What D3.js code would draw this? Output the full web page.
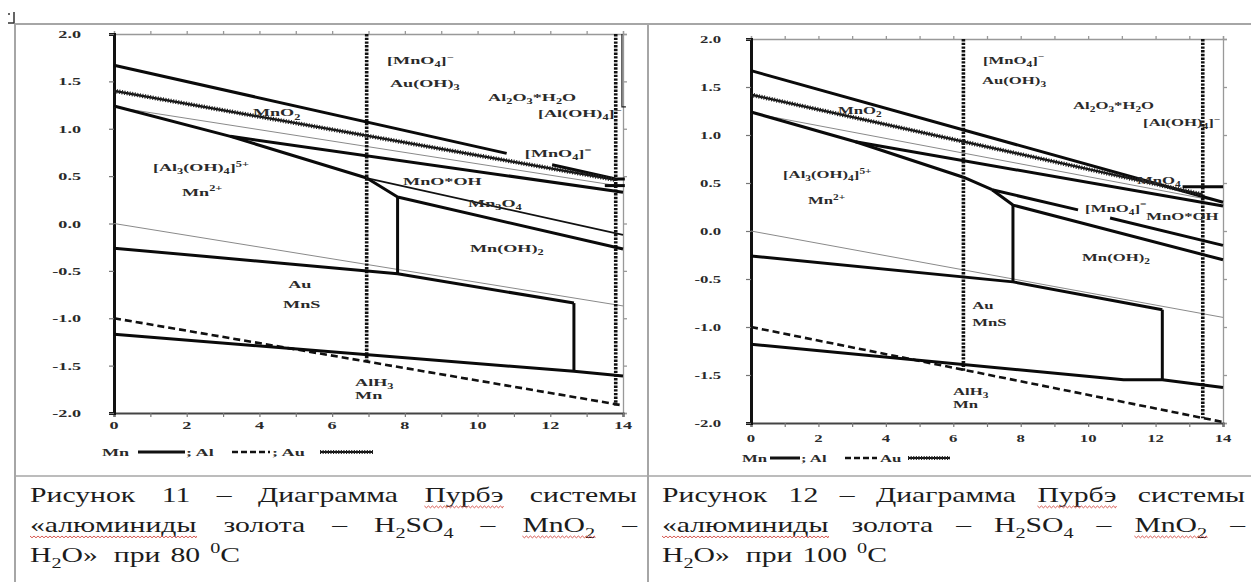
<!DOCTYPE html>
<html>
<head>
<meta charset="utf-8">
<script src="https://cdn.jsdelivr.net/npm/d3@7"></script>
<style>
  body { margin: 0; background: #fff; }
  svg { display: block; }
</style>
</head>
<body>
<svg id="page" width="1251" height="582"></svg>
<script>
// ---------- axis ticks ----------
const pHTicks = [0, 2, 4, 6, 8, 10, 12, 14];
const eTicks = [2.0, 1.5, 1.0, 0.5, 0.0, -0.5, -1.0, -1.5, -2.0];

// ---------- Pourbaix diagram, 80 °C (points are [pH, E, V]) ----------
const mn80 = [
  [[0, 1.67], [10.8, 0.74]],
  [[12.05, 0.62], [13.8, 0.47], [14.05, 0.47]],
  [[0, 1.24], [3.2, 0.92], [6.95, 0.48]],
  [[3.2, 0.92], [14, 0.33]],
  [[13.5, 0.40], [14.05, 0.40]],
  [[6.95, 0.48], [7.8, 0.28], [14, -0.27]],
  [[7.8, 0.28], [7.8, -0.53]],
  [[0, -0.26], [7.8, -0.53], [12.65, -0.84]],
  [[12.65, -0.84], [12.65, -1.56]],
  [[0, -1.17], [12.65, -1.56], [14, -1.61]]
];
const mnThin80 = [[[6.95, 0.48], [14, -0.12]]];
const al80 = [[[0, -1.0], [14, -1.92]]];
const alBounds80 = [[[6.95, 2.0], [6.95, -1.45]], [[13.8, 2.0], [13.8, -1.92]]];
const au80 = [[[0, 1.40], [13.8, 0.46]]];
const water80 = [[[0, 1.23], [14, 0.39]], [[0, 0.0], [14, -0.87]]];
const marks80 = [[[13.97, 2.0], [13.97, 1.23], [14.08, 1.23]]];
const labels80 = [
  ["[MnO_{4}]^{−}", 7.51, 1.68],
  ["Au(OH)_{3}", 7.59, 1.44],
  ["Al_{2}O_{3}*H_{2}O", 10.29, 1.29],
  ["[Al(OH)_{4}]^{−}", 11.66, 1.12],
  ["[MnO_{4}]^{=}", 11.30, 0.70],
  ["MnO_{2}", 3.82, 1.13],
  ["[Al_{3}(OH)_{4}]^{5+}", 1.07, 0.55],
  ["Mn^{2+}", 1.87, 0.29],
  ["MnO*OH", 7.95, 0.41],
  ["Mn_{3}O_{4}", 9.74, 0.17],
  ["Mn(OH)_{2}", 9.79, -0.30],
  ["Au", 4.79, -0.68],
  ["MnS", 4.65, -0.89],
  ["AlH_{3}", 6.63, -1.71],
  ["Mn", 6.63, -1.85]
];

// ---------- Pourbaix diagram, 100 °C ----------
const mn100 = [
  [[0, 1.67], [14, 0.30]],
  [[0, 1.24], [3.1, 0.93], [6.3, 0.56], [7.15, 0.43]],
  [[3.1, 0.93], [14, 0.26]],
  [[7.15, 0.43], [7.77, 0.27], [14, -0.30]],
  [[7.15, 0.43], [9.7, 0.22]],
  [[10.65, 0.135], [14, -0.15]],
  [[12.8, 0.46], [14, 0.46]],
  [[7.77, 0.27], [7.77, -0.53]],
  [[0, -0.26], [7.77, -0.53], [12.2, -0.82]],
  [[12.2, -0.82], [12.2, -1.55]],
  [[0, -1.18], [11.05, -1.55], [12.2, -1.55], [14, -1.63]]
];
const mnThin100 = [];
const al100 = [[[0, -1.0], [14, -1.99]]];
const alBounds100 = [[[6.3, 2.0], [6.3, -1.47]], [[13.4, 2.0], [13.4, -1.95]]];
const au100 = [[[0, 1.42], [13.4, 0.38]]];
const water100 = [[[0, 1.23], [14, 0.30]], [[0, 0.0], [14, -0.90]]];
const marks100 = [];
const labels100 = [
  ["[MnO_{4}]^{−}", 6.88, 1.74],
  ["Au(OH)_{3}", 6.85, 1.53],
  ["Al_{2}O_{3}*H_{2}O", 9.55, 1.27],
  ["[Al(OH)_{4}]^{−}", 11.63, 1.09],
  ["MnO_{4}", 11.45, 0.49],
  ["[MnO_{4}]^{=}", 9.91, 0.20],
  ["MnO*OH", 11.72, 0.11],
  ["MnO_{2}", 2.58, 1.22],
  ["[Al_{3}(OH)_{4}]^{5+}", 0.95, 0.55],
  ["Mn^{2+}", 1.69, 0.28],
  ["Mn(OH)_{2}", 9.82, -0.31],
  ["Au", 6.56, -0.81],
  ["MnS", 6.56, -0.99],
  ["AlH_{3}", 5.99, -1.71],
  ["Mn", 5.99, -1.84]
];

// ---------- figure captions ----------
const caption11 = [
  ["Рисунок", "11", "–", "Диаграмма", "Пурбэ", "системы"],
  ["«алюминиды", "золота", "–", "H_{2}SO_{4}", "–", "MnO_{2}", "–"],
  ["H_{2}O»", "при", "80", "^{0}C"]
];
const caption12 = [
  ["Рисунок", "12", "–", "Диаграмма", "Пурбэ", "системы"],
  ["«алюминиды", "золота", "–", "H_{2}SO_{4}", "–", "MnO_{2}", "–"],
  ["H_{2}O»", "при", "100", "^{0}C"]
];
const spellFlagged = ["Пурбэ", "«алюминиды", "MnO_{2}"];

// ---------- helpers ----------
const svg = d3.select("#page");
svg.append("rect").attr("width", 1251).attr("height", 582).attr("fill", "#fff");

// writes "X_{sub}" / "Y^{sup}" markup as tspans
function rich(textSel, str, size) {
  const parts = str.split(/(_\{[^}]*\}|\^\{[^}]*\})/).filter(s => s.length);
  let shift = 0;
  parts.forEach(p => {
    let txt = p, dy = 0, fs = size;
    if (p.startsWith("_{")) { txt = p.slice(2, -1); dy = size * 0.28; fs = size * 0.68; }
    else if (p.startsWith("^{")) { txt = p.slice(2, -1); dy = -size * 0.42; fs = size * 0.68; }
    textSel.append("tspan").attr("dy", (dy - shift).toFixed(2)).attr("font-size", fs).text(txt);
    shift = dy;
  });
}

function chemLabel(g, str, x, y, sx, anchor) {
  const t = g.append("text")
    .attr("transform", `translate(${x},${y}) scale(${sx},1)`)
    .attr("font-family", "'Liberation Serif', 'Times New Roman', serif")
    .attr("font-weight", "bold")
    .attr("font-size", 11)
    .attr("fill", "#2a2a2a")
    .attr("text-anchor", anchor || "start");
  rich(t, str, 11);
  return t;
}

// ---------- table frame ----------
const frame = svg.append("g").attr("stroke", "#a6a6a6").attr("fill", "none");
frame.append("line").attr("x1", 15).attr("x2", 1251).attr("y1", 24).attr("y2", 24).attr("stroke-width", 2);
frame.append("line").attr("x1", 15).attr("x2", 15).attr("y1", 24).attr("y2", 582).attr("stroke-width", 2);
frame.append("line").attr("x1", 648).attr("x2", 648).attr("y1", 24).attr("y2", 582).attr("stroke-width", 2);
frame.append("line").attr("x1", 15).attr("x2", 1251).attr("y1", 476).attr("y2", 476).attr("stroke-width", 1.5);
svg.append("path").attr("d", "M8,14 L10,14 M14,12 L14,23 L8,23")
  .attr("stroke", "#333").attr("stroke-width", 1.5).attr("fill", "none");

// ---------- diagrams ----------
const panels = [
  { mn: mn80, mnThin: mnThin80, al: al80, alB: alBounds80, au: au80, water: water80, marks: marks80, labels: labels80,
    x0: 114, x1: 623, y0: 34, y1: 413, sx: 1.65, yLabX: 81, xLabY: 429,
    legY: 452, legend: [["text", 102, "Mn"], ["solid", 138, 185], ["text", 186, "; Al"], ["dash", 232, 270],
                        ["text", 272, "; Au"], ["wavy", 320, 373]] },
  { mn: mn100, mnThin: mnThin100, al: al100, alB: alBounds100, au: au100, water: water100, marks: marks100, labels: labels100,
    x0: 751, x1: 1223, y0: 39, y1: 423, sx: 1.52, yLabX: 721, xLabY: 442,
    legY: 458, legend: [["text", 742, "Mn"], ["solid", 770, 800], ["text", 801, "; Al"], ["dash", 845, 877],
                        ["text", 880, "Au"], ["wavy", 908, 950]] }
];

panels.forEach(P => {
  const x = d3.scaleLinear().domain([0, 14]).range([P.x0, P.x1]);
  const y = d3.scaleLinear().domain([-2, 2]).range([P.y1, P.y0]);
  const line = d3.line().x(d => x(d[0])).y(d => y(d[1]));
  const g = svg.append("g");

  // frame: top and right borders with ticks
  const top = d3.axisTop(x).tickValues(d3.range(0, 15)).tickSize(3).tickFormat("");
  g.append("g").attr("transform", `translate(0,${P.y0})`).call(top)
    .call(s => s.selectAll("path,line").attr("stroke", "#999").attr("stroke-width", 1.3));
  const right = d3.axisRight(y).tickValues(eTicks).tickSize(4).tickFormat("");
  g.append("g").attr("transform", `translate(${P.x1},0)`).call(right)
    .call(s => s.selectAll("path,line").attr("stroke", "#999").attr("stroke-width", 1.3));

  // bottom axis
  const bottom = d3.axisBottom(x).tickValues(d3.range(0, 15)).tickSize(4).tickFormat("");
  g.append("g").attr("transform", `translate(0,${P.y1})`).call(bottom)
    .call(s => s.select(".domain").attr("stroke", "#444").attr("stroke-width", 2.2))
    .call(s => s.selectAll(".tick line").attr("stroke", "#777").attr("stroke-width", 1.2));
  pHTicks.forEach(v => chemLabel(g, String(v), x(v), P.xLabY, P.sx, "middle"));

  // left axis
  const left = d3.axisLeft(y).tickValues(eTicks).tickSize(5).tickFormat("");
  g.append("g").attr("transform", `translate(${P.x0},0)`).call(left)
    .call(s => s.select(".domain").attr("stroke", "#111").attr("stroke-width", 3))
    .call(s => s.selectAll(".tick line").attr("stroke", "#777").attr("stroke-width", 1.2));
  eTicks.forEach(v => chemLabel(g, d3.format(".1f")(v).replace("−", "-"), P.yLabX, y(v) + 4, P.sx, "end"));

  // water stability lines
  g.selectAll(null).data(P.water).join("path").attr("d", line)
    .attr("fill", "none").attr("stroke", "#8a8a8a").attr("stroke-width", 1);

  // Al boundaries
  g.selectAll(null).data(P.al).join("path").attr("d", line)
    .attr("fill", "none").attr("stroke", "#111").attr("stroke-width", 2.6).attr("stroke-dasharray", "7,4");
  g.selectAll(null).data(P.alB).join("path").attr("d", line)
    .attr("fill", "none").attr("stroke", "#111").attr("stroke-width", 3.6).attr("stroke-dasharray", "2.4,1.3");

  // Mn boundaries
  g.selectAll(null).data(P.mn).join("path").attr("d", line)
    .attr("fill", "none").attr("stroke", "#0a0a0a").attr("stroke-width", 3).attr("stroke-linejoin", "round");
  g.selectAll(null).data(P.mnThin).join("path").attr("d", line)
    .attr("fill", "none").attr("stroke", "#111").attr("stroke-width", 1.8);
  g.selectAll(null).data(P.marks).join("path").attr("d", line)
    .attr("fill", "none").attr("stroke", "#222").attr("stroke-width", 1.2);

  // Au boundary: a braided line
  g.selectAll(null).data(P.au).join("path").attr("d", line)
    .attr("fill", "none").attr("stroke", "#111").attr("stroke-width", 2.2);
  g.selectAll(null).data(P.au).join("path").attr("d", line)
    .attr("fill", "none").attr("stroke", "#222").attr("stroke-width", 4.4).attr("stroke-dasharray", "1.1,1.5");

  // field labels
  P.labels.forEach(([t, ph, e]) => chemLabel(g, t, x(ph), y(e), P.sx, "start"));

  // legend
  const ly = P.legY;
  P.legend.forEach(item => {
    const [kind, a, b] = item;
    if (kind === "text") chemLabel(g, b, a, ly + 4, P.sx, "start");
    else {
      const seg = g.append("line").attr("x1", a).attr("x2", b).attr("y1", ly).attr("y2", ly)
        .attr("stroke", "#111");
      if (kind === "solid") seg.attr("stroke-width", 3);
      if (kind === "dash") seg.attr("stroke-width", 2.6).attr("stroke-dasharray", "6,3");
      if (kind === "wavy") {
        seg.attr("stroke-width", 2);
        g.append("line").attr("x1", a).attr("x2", b).attr("y1", ly).attr("y2", ly)
          .attr("stroke", "#222").attr("stroke-width", 4).attr("stroke-dasharray", "1.1,1.5");
      }
    }
  });
});

// ---------- captions (justified paragraphs) ----------
const capStretch = 1.35;

function squiggle(x1, x2, yy) {
  let d = `M${x1},${yy}`;
  for (let xx = x1, k = 0; xx < x2; xx += 2, k++) d += ` L${Math.min(xx + 2, x2)},${yy + (k % 2 ? 0 : 1.8)}`;
  svg.append("path").attr("d", d).attr("fill", "none").attr("stroke", "#d0453c").attr("stroke-width", 0.9);
}

function caption(lines, xL, xR, baselines) {
  lines.forEach((words, i) => {
    const nodes = words.map(w => {
      const t = svg.append("text")
        .attr("font-family", "'Liberation Serif', 'Times New Roman', serif")
        .attr("font-size", 22).attr("fill", "#1c1c1c");
      rich(t, w, 22);
      return { t, w: t.node().getComputedTextLength() * capStretch, flag: spellFlagged.includes(w) };
    });
    const total = d3.sum(nodes, n => n.w);
    const justify = i < lines.length - 1;
    const gaps = nodes.map((n, k) => justify ? (xR - xL - total) / (nodes.length - 1) : (k === 0 ? 16 : 10));
    let cx = xL;
    nodes.forEach((n, k) => {
      n.t.attr("transform", `translate(${cx},${baselines[i]}) scale(${capStretch},1)`);
      if (n.flag) squiggle(cx, cx + n.w, baselines[i] + 4);
      cx += n.w + gaps[k];
    });
  });
}

caption(caption11, 30, 637, [502, 532, 562]);
caption(caption12, 662, 1245, [502, 532, 562]);
</script>
</body>
</html>
